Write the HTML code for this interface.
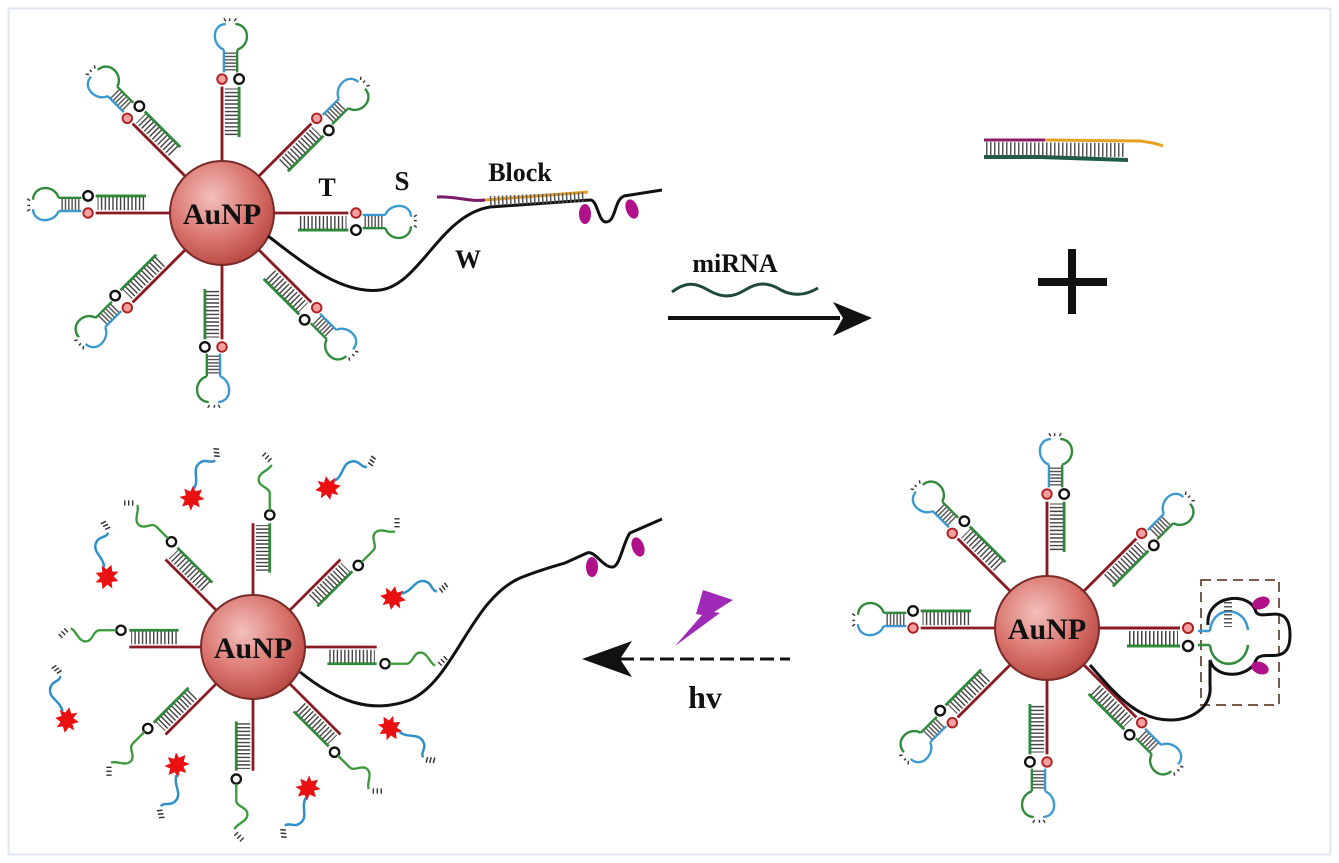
<!DOCTYPE html>
<html><head><meta charset="utf-8"><style>
html,body{margin:0;padding:0;background:#fff;}
svg{display:block;}
text{font-family:"Liberation Serif",serif;font-weight:bold;}
</style></head><body>
<svg width="1339" height="863" viewBox="0 0 1339 863" xmlns="http://www.w3.org/2000/svg">
<defs>
<radialGradient id="ball" cx="40%" cy="35%" r="70%">
<stop offset="0" stop-color="#f3c0bc"/><stop offset="0.6" stop-color="#d9726c"/><stop offset="1" stop-color="#b5453f"/>
</radialGradient>
<g id="arm"><g transform="scale(0.95)">
<line x1="50" y1="0" x2="133" y2="0" stroke="#8b1a22" stroke-width="3"/>
<line x1="80" y1="18" x2="133" y2="18" stroke="#2e8b3a" stroke-width="3"/>
<line x1="82" y1="10" x2="131" y2="10" stroke="#444" stroke-width="14" stroke-dasharray="1.5 2.5"/>
<circle cx="141" cy="0" r="5" fill="#f2a0a0" stroke="#b02020" stroke-width="2"/>
<circle cx="141" cy="18" r="5" fill="#fff" stroke="#111" stroke-width="2.5"/>
<line x1="148" y1="2" x2="172" y2="2" stroke="#3a9ad0" stroke-width="2.5"/>
<line x1="148" y1="16" x2="172" y2="16" stroke="#2e8b3a" stroke-width="2.5"/>
<line x1="150" y1="9" x2="171" y2="9" stroke="#555" stroke-width="12" stroke-dasharray="1.5 2"/>
<path d="M172 2 C176 -10 198 -12 199 4" fill="none" stroke="#3a9ad0" stroke-width="2.5"/>
<path d="M172 16 C176 30 198 30 199 14" fill="none" stroke="#2e8b3a" stroke-width="2.5"/>
<path d="M202 4 l3 -2 M202 8 l3 0 M202 13 l3 2" stroke="#333" stroke-width="1.5"/>
</g></g>
<g id="arm2"><g transform="scale(0.93)">
<line x1="52" y1="0" x2="133" y2="0" stroke="#8b1a22" stroke-width="3"/>
<line x1="80" y1="18" x2="133" y2="18" stroke="#2e8b3a" stroke-width="3"/>
<line x1="82" y1="10" x2="131" y2="10" stroke="#444" stroke-width="14" stroke-dasharray="1.5 2.5"/>
<circle cx="142" cy="18" r="5" fill="#fff" stroke="#111" stroke-width="2.5"/>
<path d="M147 18 L165 18 C172 18 172 6 180 6 C188 6 190 18 196 20" fill="none" stroke="#3a9a3a" stroke-width="2.5"/>
<path d="M199 16 l4 4 M202 13 l4 4 M205 10 l4 4" stroke="#333" stroke-width="1.5"/>
</g></g>
<g id="star">
<polygon points="0,-12 3,-6 9,-9 7,-3 13,0 7,3 9,9 3,6 0,12 -3,6 -9,9 -7,3 -13,0 -7,-3 -9,-9 -3,-6" fill="#e81010"/>
<path d="M8 -6 C18 -10 18 -22 28 -22 C36 -22 36 -14 42 -14" fill="none" stroke="#2f8fc8" stroke-width="2.5"/>
<path d="M44 -18 l4 4 M46 -21 l4 4 M48 -24 l4 4" stroke="#333" stroke-width="1.5"/>
</g>
</defs>
<rect x="8.5" y="8.5" width="1322" height="846" fill="#fff" stroke="#dfe6ef" stroke-width="2"/>

<!-- Top-left AuNP -->
<g transform="translate(222,213)">
<use href="#arm" transform="rotate(0)"/>
<use href="#arm" transform="rotate(45)"/>
<use href="#arm" transform="rotate(90)"/>
<use href="#arm" transform="rotate(135)"/>
<use href="#arm" transform="rotate(180)"/>
<use href="#arm" transform="rotate(225)"/>
<use href="#arm" transform="rotate(270)"/>
<use href="#arm" transform="rotate(315)"/>
<circle r="52" fill="url(#ball)" stroke="#7a2a28" stroke-width="2"/>
<text x="0" y="11" text-anchor="middle" font-size="30" fill="#111">AuNP</text>
</g>
<text x="327" y="196" text-anchor="middle" font-size="26" fill="#111">T</text>
<text x="402" y="190" text-anchor="middle" font-size="27" fill="#111">S</text>
<path d="M268 236 C300 260 340 295 380 290 C420 285 440 215 490 207 L590 200" fill="none" stroke="#111" stroke-width="3"/>
<path d="M590 200 C598 200 598 222 606 222 C616 222 614 200 624 196 L662 190" fill="none" stroke="#111" stroke-width="3"/>
<ellipse cx="585" cy="214" rx="6" ry="10" fill="#b0108a"/>
<ellipse cx="632" cy="209" rx="6" ry="10" fill="#b0108a" transform="rotate(-20 632 209)"/>
<path d="M437 197 C455 196 470 202 485 200" fill="none" stroke="#7a1a6a" stroke-width="3"/>
<path d="M485 200 L588 192" fill="none" stroke="#e8a020" stroke-width="3"/>
<line x1="490" y1="201" x2="586" y2="197" stroke="#555" stroke-width="10" stroke-dasharray="1.5 2.5"/>
<text x="520" y="181" text-anchor="middle" font-size="26" fill="#111">Block</text>
<text x="468" y="268" text-anchor="middle" font-size="26" fill="#111">W</text>

<!-- miRNA arrow -->
<text x="735" y="272" text-anchor="middle" font-size="26" fill="#111">miRNA</text>
<path d="M672 292 C685 282 695 282 708 290 C722 298 732 298 745 290 C758 282 768 282 781 290 C792 296 805 296 818 288" fill="none" stroke="#1e4a3a" stroke-width="3"/>
<line x1="668" y1="318" x2="840" y2="318" stroke="#111" stroke-width="4"/>
<polygon points="872,318 833,302 843,318 833,336" fill="#111"/>

<!-- top-right duplex -->
<path d="M984 140 L1045 140" stroke="#8a1a6a" stroke-width="3"/>
<path d="M1045 140 L1140 141 C1150 142 1158 144 1163 146" fill="none" stroke="#e8a020" stroke-width="3"/>
<path d="M984 157 L1040 157 L1128 160" fill="none" stroke="#1e5a46" stroke-width="4"/>
<line x1="986" y1="149" x2="1126" y2="150" stroke="#555" stroke-width="14" stroke-dasharray="1.5 2.5"/>
<line x1="1072" y1="249" x2="1072" y2="314" stroke="#111" stroke-width="8"/>
<line x1="1038" y1="282" x2="1107" y2="282" stroke="#111" stroke-width="8"/>

<!-- Bottom-right AuNP -->
<g transform="translate(1047,628)">
<use href="#arm" transform="rotate(45)"/>
<use href="#arm" transform="rotate(90)"/>
<use href="#arm" transform="rotate(135)"/>
<use href="#arm" transform="rotate(180)"/>
<use href="#arm" transform="rotate(225)"/>
<use href="#arm" transform="rotate(270)"/>
<use href="#arm" transform="rotate(315)"/>
<line x1="48" y1="0" x2="133" y2="0" stroke="#8b1a22" stroke-width="3"/>
<line x1="80" y1="18" x2="133" y2="18" stroke="#2e8b3a" stroke-width="3"/>
<line x1="82" y1="10" x2="131" y2="10" stroke="#444" stroke-width="14" stroke-dasharray="1.5 2.5"/>
<circle cx="141" cy="0" r="5" fill="#f2a0a0" stroke="#b02020" stroke-width="2"/>
<circle cx="141" cy="18" r="5" fill="#fff" stroke="#111" stroke-width="2.5"/>
<circle r="52" fill="url(#ball)" stroke="#7a2a28" stroke-width="2"/>
<text x="0" y="11" text-anchor="middle" font-size="30" fill="#111">AuNP</text>
</g>
<rect x="1201" y="580" width="78" height="125" fill="none" stroke="#7a5a4a" stroke-width="2" stroke-dasharray="10 6"/>
<g>
<line x1="1198" y1="631" x2="1210" y2="631" stroke="#3a9ad0" stroke-width="2.5"/>
<line x1="1198" y1="645" x2="1210" y2="645" stroke="#2e8b3a" stroke-width="2.5"/>
<path d="M1210 631 C1212 605 1245 605 1248 630" fill="none" stroke="#3a9ad0" stroke-width="2.5"/>
<path d="M1210 645 C1212 670 1245 670 1248 645" fill="none" stroke="#2e8b3a" stroke-width="2.5"/>
<path d="M1208 625 C1205 595 1250 590 1256 612 C1262 622 1290 600 1290 635 C1290 668 1262 648 1256 660 C1250 678 1215 680 1210 660 L1210 685 C1212 705 1195 720 1170 720 C1140 720 1120 700 1090 665" fill="none" stroke="#111" stroke-width="3"/>
<ellipse cx="1261" cy="603" rx="9" ry="6" fill="#b0108a" transform="rotate(-20 1261 603)"/>
<ellipse cx="1260" cy="668" rx="9" ry="6" fill="#b0108a" transform="rotate(20 1260 668)"/>
<line x1="1215" y1="615" x2="1240" y2="615" stroke="#555" stroke-width="8" stroke-dasharray="1.5 2.5" transform="rotate(90 1228 615)"/>
</g>

<!-- dashed arrow + hv -->
<line x1="620" y1="659" x2="790" y2="659" stroke="#111" stroke-width="3" stroke-dasharray="14 6"/>
<polygon points="582,659 632,641 620,659 632,677" fill="#111"/>
<polygon points="703,590 733,600 714,612 720,613 675,646 702,615 696,614" fill="#a02ab8"/>
<text x="705" y="708" text-anchor="middle" font-size="32" fill="#111">hv</text>

<!-- Bottom-left AuNP -->
<g transform="translate(253,647)">
<use href="#arm2" transform="rotate(0)"/>
<use href="#arm2" transform="rotate(-45)"/>
<use href="#arm2" transform="rotate(-90)"/>
<use href="#arm2" transform="rotate(-135)"/>
<use href="#arm2" transform="rotate(180)"/>
<use href="#arm2" transform="rotate(135)"/>
<use href="#arm2" transform="rotate(90)"/>
<use href="#arm2" transform="rotate(45)"/>
<circle r="52" fill="url(#ball)" stroke="#7a2a28" stroke-width="2"/>
<text x="0" y="11" text-anchor="middle" font-size="30" fill="#111">AuNP</text>
</g>
<path d="M300 672 C335 700 370 715 410 700 C455 680 470 600 520 578 C540 570 555 566 565 563 L587 553 C595 550 603 568 613 567 C620 566 624 540 630 533 L662 519" fill="none" stroke="#111" stroke-width="3"/>
<ellipse cx="592" cy="567" rx="6" ry="10" fill="#b0108a"/>
<ellipse cx="638" cy="547" rx="6" ry="10" fill="#b0108a" transform="rotate(-20 638 547)"/>
<use href="#star" transform="translate(192,498) rotate(-40)"/>
<use href="#star" transform="translate(328,488) rotate(-10)"/>
<use href="#star" transform="translate(107,577) rotate(-70)"/>
<use href="#star" transform="translate(393,598) rotate(10)"/>
<use href="#star" transform="translate(67,720) rotate(-80)"/>
<use href="#star" transform="translate(390,728) rotate(60)"/>
<use href="#star" transform="translate(177,765) rotate(130)"/>
<use href="#star" transform="translate(308,788) rotate(140)"/>
</svg>
</body></html>
